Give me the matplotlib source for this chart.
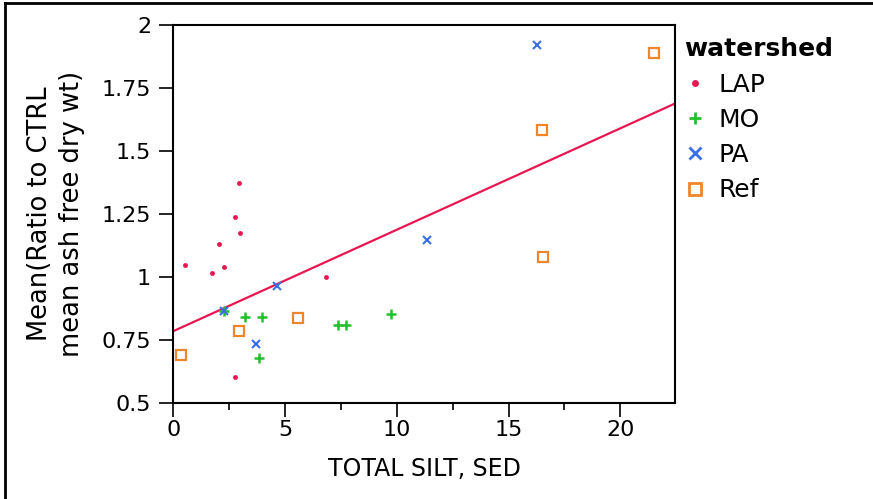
import numpy as np
import matplotlib.pyplot as plt
from matplotlib.lines import Line2D
from matplotlib.ticker import MultipleLocator

# data
lap_x = [2.95, 2.77, 2.98, 2.06, 0.52, 2.25, 1.71, 6.83, 2.74]
lap_y = [1.374, 1.239, 1.176, 1.132, 1.048, 1.041, 1.017, 1.0, 0.604]
mo_x = [2.25, 3.22, 3.95, 3.83, 7.35, 7.73, 9.74]
mo_y = [0.866, 0.843, 0.843, 0.681, 0.81, 0.81, 0.855]
pa_x = [4.62, 3.70, 11.35, 16.26, 2.25]
pa_y = [0.965, 0.734, 1.149, 1.921, 0.866]
ref_x = [0.33, 2.95, 5.58, 16.52, 16.55, 21.52]
ref_y = [0.69, 0.788, 0.838, 1.584, 1.079, 1.888]

# fitted line
fit_intercept = 0.786
fit_slope = 0.0402

c_lap = '#e8174f'
c_mo = '#22c02a'
c_pa = '#3a6fe6'
c_ref = '#f0862a'

fig = plt.figure(figsize=(8.73, 4.99), dpi=100)
ax = fig.add_axes([0.1985, 0.1918, 0.5747, 0.7582])

ax.plot(lap_x, lap_y, 'o', color=c_lap, ms=3.5, mew=0, zorder=3)
ax.plot(mo_x, mo_y, '+', color=c_mo, ms=7, mew=1.8, zorder=3)
ax.plot(pa_x, pa_y, 'x', color=c_pa, ms=5.5, mew=1.5, zorder=3)
ax.plot(ref_x, ref_y, 's', mfc='none', mec=c_ref, ms=7, mew=1.6, zorder=3)

xs = np.array([0, 22.45])
ax.plot(xs, fit_intercept + fit_slope * xs, color=c_lap, lw=1.6, zorder=2)

ax.set_xlim(0, 22.45)
ax.set_ylim(0.5, 2)
ax.xaxis.set_major_locator(MultipleLocator(5))
ax.xaxis.set_minor_locator(MultipleLocator(2.5))
ax.set_yticks([0.5, 0.75, 1, 1.25, 1.5, 1.75, 2])
ax.set_yticklabels(['0.5', '0.75', '1', '1.25', '1.5', '1.75', '2'])
ax.tick_params(axis='both', which='major', length=10, width=1.2, labelsize=16, direction='out')
ax.tick_params(axis='y', pad=6)
ax.tick_params(axis='x', pad=2)
ax.tick_params(axis='x', which='minor', length=5, width=1.2)
for s in ax.spines.values():
    s.set_linewidth(1.5)

ax.set_xlabel('TOTAL SILT, SED', fontsize=17, labelpad=12)
ax.set_ylabel('Mean(Ratio to CTRL\nmean ash free dry wt)', fontsize=18.5, labelpad=12, linespacing=1.3)

handles = [
    Line2D([], [], ls='none', marker='o', color=c_lap, ms=5, mew=0),
    Line2D([], [], ls='none', marker='+', color=c_mo, ms=9, mew=2),
    Line2D([], [], ls='none', marker='x', color=c_pa, ms=8, mew=2),
    Line2D([], [], ls='none', marker='s', mfc='none', mec=c_ref, ms=9, mew=2),
]
leg = fig.legend(handles, ['LAP', 'MO', 'PA', 'Ref'], title='watershed',
                 loc='upper left', bbox_to_anchor=(0.772, 0.945), frameon=False,
                 fontsize=18, title_fontproperties={'weight': 'bold', 'size': 18},
                 handlelength=0.9, handletextpad=0.5, labelspacing=0.45,
                 alignment='left', borderaxespad=0)

# border on left and top of the picture
fig.add_artist(Line2D([0.006, 0.006], [0, 0.993], transform=fig.transFigure, color='black', lw=2))
fig.add_artist(Line2D([0.006, 1.0], [0.993, 0.993], transform=fig.transFigure, color='black', lw=2))

fig.savefig('out.png', dpi=100)
